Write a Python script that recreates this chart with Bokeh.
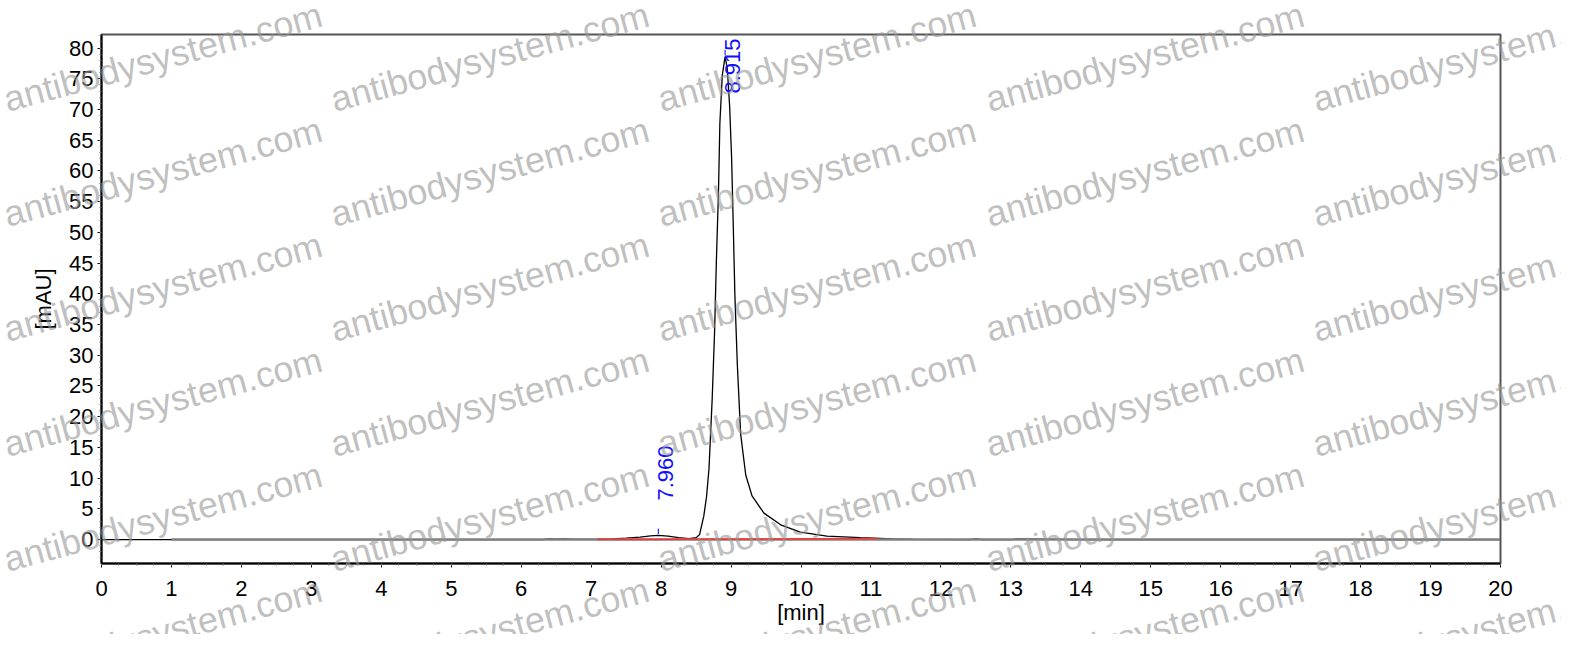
import math
from bokeh.plotting import figure
from bokeh.models import Range1d, SingleIntervalTicker, Div
from bokeh.layouts import column
from bokeh.core.properties import value
from bokeh.embed import file_html
from bokeh.resources import INLINE

# ---------------- data ----------------
times = [0, 1, 2, 3, 4, 5, 6, 6.3, 6.4, 6.5, 6.6, 6.8, 7.0, 7.1, 7.3, 7.5, 7.7,
         7.85, 7.96, 8.1, 8.25, 8.4, 8.5, 8.55, 8.61, 8.65, 8.685, 8.73, 8.765,
         8.79, 8.82, 8.84, 8.875, 8.915, 8.946, 8.98, 9.008, 9.032, 9.055, 9.09,
         9.137, 9.21, 9.30, 9.47, 9.71, 9.99, 10.37, 10.85, 11.32, 11.6, 12.4,
         12.5, 12.6, 13.0, 13.1, 14, 16, 18, 20]
signal = [0, 0, 0, 0, 0, 0, 0, 0, 0.12, 0.05, 0.1, 0.02, 0.03, 0.05, 0.12, 0.22,
          0.4, 0.58, 0.68, 0.55, 0.32, 0.14, 0.3, 0.8, 3.8, 7.0, 11.6, 22.8, 34.0,
          45.3, 56.5, 67.7, 75.6, 78.6, 76.7, 70.5, 62.1, 50.9, 39.7, 28.4, 17.2,
          10.5, 7.1, 4.3, 2.4, 1.2, 0.55, 0.3, 0.1, 0.02, 0, 0.1, 0, 0, 0.1, 0, 0,
          0, 0]
zero_line_t = [1, 20]
zero_line_v = [0, 0]
integ_t = [7.09, 11.09]
integ_v = [0.02, 0.15]
peak_times = [7.960, 8.915]
peak_heights = [0.68, 78.6]
peak_label_y = [6.35, 72.6]
peak_labels = ["7.960", "8.915"]
watermark_text = "antibodysystem.com"

# ---------------- layout ----------------
W, H = 1556, 629
X0, X1 = 0, 20
Y0, Y1 = -3.9, 82.2
FW, FH = 1399, 529
BL, BT = 101, 34
BR, BB = W - BL - FW, H - BT - FH
FONT = "Liberation Sans"

p = figure(frame_width=FW, frame_height=FH, min_border_left=BL, min_border_top=BT,
           min_border_right=BR, min_border_bottom=BB, output_backend="svg",
           toolbar_location=None, x_range=Range1d(X0, X1), y_range=Range1d(Y0, Y1))
p.background_fill_color = "white"
p.border_fill_color = "white"
p.grid.visible = False
p.outline_line_color = "#555555"
p.outline_line_width = 2

p.xaxis.ticker = SingleIntervalTicker(interval=1, num_minor_ticks=4)
p.yaxis.ticker = SingleIntervalTicker(interval=5, num_minor_ticks=5)
for ax in (p.xaxis, p.yaxis):
    ax.axis_line_color = "black"
    ax.axis_line_width = 2
    ax.major_tick_line_color = "black"
    ax.major_tick_in = 0
    ax.major_tick_out = 4
    ax.minor_tick_line_color = "#666666"
    ax.minor_tick_in = 0
    ax.minor_tick_out = 2
    ax.major_label_text_font = FONT
    ax.major_label_text_font_size = "22px"
    ax.major_label_text_color = "black"
    ax.axis_label_text_font = FONT
    ax.axis_label_text_font_size = "22px"
    ax.axis_label_text_font_style = "normal"
    ax.axis_label_text_color = "black"
p.xaxis.axis_label = "[min]"
p.yaxis.axis_label = "[mAU]"
p.xaxis.major_label_standoff = 13
p.xaxis.axis_label_standoff = 1
p.yaxis.major_label_standoff = 4
p.yaxis.axis_label_standoff = 10

# traces
p.line(times, signal, line_color="black", line_width=1.3)
p.line(zero_line_t, zero_line_v, line_color="#808080", line_width=2.5)
p.line(integ_t, integ_v, line_color="#ff3030", line_width=1.5)
p.segment(x0=peak_times, y0=[h + 0.2 for h in peak_heights], x1=peak_times,
          y1=[h + 1.1 for h in peak_heights], line_color="#0000ff", line_width=1)
p.text(x=peak_times, y=peak_label_y, text=peak_labels, angle=math.pi / 2,
       text_align="left", text_baseline="top", text_color="#1010ff",
       text_font=value(FONT), text_font_size="22px")

# ---------------- watermark overlay (page pixels) ----------------
WM_W, WM_H = 1572, 645
wm_cols = [3, 330, 657, 985, 1312]
wm_rows = [107, 222, 337, 452, 567, 682]
WM_SIZE = 36
WM_BASE = 30.5  # baseline offset inside a line box of line-height 1
spans = []
for cx in wm_cols:
    for ry in wm_rows:
        spans.append(
            f'<span style="position:absolute;left:{cx}px;top:{ry - WM_BASE:.1f}px;'
            f'white-space:nowrap;line-height:1;font-family:\'{FONT}\';'
            f'font-size:{WM_SIZE}px;color:rgba(150,150,150,0.6);'
            f'transform-origin:0px {WM_BASE}px;transform:rotate(-15.2deg);">'
            f'{watermark_text}</span>')
wm = Div(text="".join(spans), width=WM_W, height=WM_H)
wm.styles = {"position": "absolute", "left": "0px", "top": "0px",
             "pointer-events": "none", "z-index": "5", "overflow": "hidden"}

layout = column(p, wm)
layout.styles = {"position": "relative"}

open("out.html", "w").write(file_html(layout, INLINE))
